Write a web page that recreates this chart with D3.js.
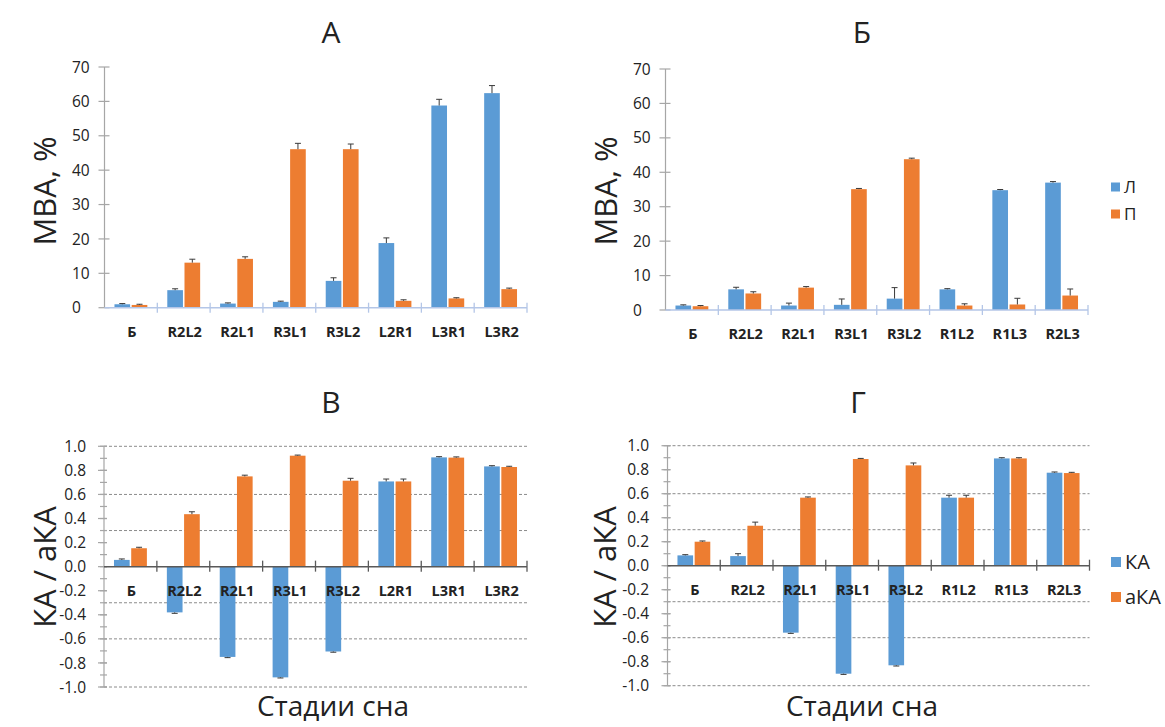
<!DOCTYPE html>
<html>
<head>
<meta charset="utf-8">
<script src="https://cdn.jsdelivr.net/npm/d3@7"></script>
<style>
  html, body { margin: 0; padding: 0; background: #fff; }
  svg { display: block; }
</style>
</head>
<body>
<svg id="chart" width="1165" height="727"></svg>
<script>
// ---------- DATA ----------
const categoriesA = ["Б", "R2L2", "R2L1", "R3L1", "R3L2", "L2R1", "L3R1", "L3R2"];
const categoriesB = ["Б", "R2L2", "R2L1", "R3L1", "R3L2", "R1L2", "R1L3", "R2L3"];

const seriesTop = ["Л", "П"];
const seriesBottom = ["КА", "аКА"];

// Panel А (МВА, %)
const panelA_L    = [1.0, 5.1, 1.2, 1.7, 7.8, 18.8, 58.8, 62.4];
const panelA_L_err = [0.2, 0.4, 0.2, 0.2, 0.9, 1.5, 1.8, 2.2];
const panelA_P    = [0.8, 13.1, 14.2, 46.1, 46.1, 2.0, 2.7, 5.4];
const panelA_P_err = [0.2, 1.0, 0.6, 1.7, 1.5, 0.3, 0.2, 0.3];

// Panel Б (МВА, %)
const panelB_L    = [1.3, 6.0, 1.3, 1.5, 3.3, 6.0, 34.8, 37.0];
const panelB_L_err = [0.2, 0.6, 0.7, 1.7, 3.2, 0.2, 0.2, 0.3];
const panelB_P    = [1.1, 4.8, 6.5, 35.1, 43.8, 1.3, 1.6, 4.2];
const panelB_P_err = [0.2, 0.5, 0.3, 0.2, 0.3, 0.5, 1.8, 1.9];

// Panel В (КА / аКА)
const panelV_KA     = [0.056, -0.38, -0.75, -0.92, -0.705, 0.708, 0.908, 0.833];
const panelV_KA_err = [0.008, 0.008, 0.006, 0.005, 0.006, 0.02, 0.006, 0.006];
const panelV_aKA     = [0.153, 0.436, 0.75, 0.922, 0.714, 0.708, 0.906, 0.828];
const panelV_aKA_err = [0.008, 0.02, 0.01, 0.005, 0.02, 0.02, 0.006, 0.006];

// Panel Г (КА / аКА)
const panelG_KA     = [0.086, 0.08, -0.558, -0.90, -0.83, 0.567, 0.894, 0.775];
const panelG_KA_err = [0.006, 0.02, 0.006, 0.006, 0.006, 0.02, 0.006, 0.006];
const panelG_aKA     = [0.20, 0.333, 0.567, 0.889, 0.836, 0.567, 0.894, 0.772];
const panelG_aKA_err = [0.006, 0.03, 0.006, 0.005, 0.02, 0.02, 0.006, 0.006];

const topTicks = [0, 10, 20, 30, 40, 50, 60, 70];
const bottomTicks = [-1.0, -0.8, -0.6, -0.4, -0.2, 0.0, 0.2, 0.4, 0.6, 0.8, 1.0];
const bottomMinorTicks = d3.range(-10, 11).map(d => d / 10);
const bottomGrid = [-1.0, -0.6, -0.3, 0.3, 0.6, 1.0];

// ---------- STYLE ----------
const colors = ["#5b9bd5", "#ed7d31"];
const axisColor = "#a6a6a6";
const textColor = "#222";
const titleFont = "'Open Sans', 'Noto Sans', sans-serif";

const svg = d3.select("#chart");

function panel(cfg) {
  const g = svg.append("g");
  const x0 = d3.scaleBand().domain(cfg.categories).range([cfg.left, cfg.right]).padding(0);
  const x1 = d3.scaleBand().domain([0, 1]).range([0, x0.bandwidth()]).paddingInner(0.09).paddingOuter(0.58);
  const y = d3.scaleLinear().domain(cfg.domain).range([cfg.bottomPx, cfg.topPx]);
  const zeroY = y(0);

  if (cfg.grid) {
    g.selectAll("line.grid").data(cfg.grid).join("line")
      .attr("x1", cfg.left).attr("x2", cfg.right)
      .attr("y1", d => y(d)).attr("y2", d => y(d))
      .attr("stroke", "#8c8c8c").attr("stroke-width", 1)
      .attr("stroke-dasharray", "3,2");
  }

  const data = [];
  cfg.categories.forEach((c, i) => {
    cfg.values.forEach((vals, s) => {
      data.push({ c, s, v: vals[i], e: cfg.errors[s][i] });
    });
  });

  g.selectAll("rect.bar").data(data).join("rect")
    .attr("x", d => x0(d.c) + x1(d.s))
    .attr("width", x1.bandwidth())
    .attr("y", d => Math.min(y(d.v), zeroY))
    .attr("height", d => Math.abs(y(d.v) - zeroY))
    .attr("fill", d => colors[d.s]);

  const eb = g.selectAll("g.err").data(data).join("g");
  eb.append("line")
    .attr("x1", d => x0(d.c) + x1(d.s) + x1.bandwidth() / 2)
    .attr("x2", d => x0(d.c) + x1(d.s) + x1.bandwidth() / 2)
    .attr("y1", d => y(d.v))
    .attr("y2", d => y(d.v + Math.sign(d.v) * d.e))
    .attr("stroke", "#3a3a3a").attr("stroke-width", 1);
  eb.append("line")
    .attr("x1", d => x0(d.c) + x1(d.s) + x1.bandwidth() / 2 - 3)
    .attr("x2", d => x0(d.c) + x1(d.s) + x1.bandwidth() / 2 + 3)
    .attr("y1", d => y(d.v + Math.sign(d.v) * d.e))
    .attr("y2", d => y(d.v + Math.sign(d.v) * d.e))
    .attr("stroke", "#3a3a3a").attr("stroke-width", 1);

  g.append("line")
    .attr("x1", cfg.left).attr("x2", cfg.left)
    .attr("y1", y(cfg.domain[0])).attr("y2", y(cfg.domain[1]))
    .attr("stroke", axisColor).attr("stroke-width", 1.2);

  if (cfg.minorTicks) {
    g.selectAll("line.minor").data(cfg.minorTicks).join("line")
      .attr("x1", cfg.left - 4).attr("x2", cfg.left + 3)
      .attr("y1", d => y(d)).attr("y2", d => y(d))
      .attr("stroke", axisColor).attr("stroke-width", 1.2);
  }
  g.selectAll("line.major").data(cfg.ticks).join("line")
    .attr("x1", cfg.left - 6).attr("x2", cfg.left + (cfg.minorTicks ? 3 : 5))
    .attr("y1", d => y(d)).attr("y2", d => y(d))
    .attr("stroke", axisColor).attr("stroke-width", 1.2);

  g.selectAll("text.tick").data(cfg.ticks).join("text")
    .attr("x", cfg.tickLabelX)
    .attr("y", d => y(d))
    .attr("dy", "0.36em")
    .attr("text-anchor", cfg.tickAnchor)
    .attr("font-family", "'Open Sans', sans-serif")
    .attr("font-size", 15.5)
    .attr("fill", textColor)
    .text(cfg.tickFormat);

  g.append("line")
    .attr("x1", cfg.left).attr("x2", cfg.right)
    .attr("y1", zeroY).attr("y2", zeroY)
    .attr("stroke", cfg.xAxisColor).attr("stroke-width", 1.5);

  const dividers = cfg.categories.slice(1).map(c => x0(c)).concat([cfg.right]);
  g.selectAll("line.div").data(dividers).join("line")
    .attr("x1", d => d).attr("x2", d => d)
    .attr("y1", zeroY - cfg.divUp).attr("y2", zeroY + cfg.divDown)
    .attr("stroke", cfg.xAxisColor).attr("stroke-width", 1.3);

  g.selectAll("text.cat").data(cfg.categories).join("text")
    .attr("x", d => x0(d) + x0.bandwidth() / 2 + 1)
    .attr("y", zeroY + 24)
    .attr("dy", "0.36em")
    .attr("text-anchor", "middle")
    .attr("font-family", "'Open Sans', sans-serif")
    .attr("font-weight", 700)
    .attr("font-size", 14.5)
    .attr("fill", textColor)
    .text(d => d);

  g.append("text")
    .attr("x", cfg.titleX).attr("y", cfg.titleY)
    .attr("text-anchor", "middle")
    .attr("font-family", titleFont)
    .attr("font-size", 30)
    .attr("fill", textColor)
    .text(cfg.title);

  g.append("text")
    .attr("transform", `translate(${cfg.yTitleX},${cfg.yTitleY}) rotate(-90)`)
    .attr("text-anchor", "middle")
    .attr("dy", "0.36em")
    .attr("font-family", titleFont)
    .attr("font-size", 31)
    .attr("fill", textColor)
    .text(cfg.yTitle);

  if (cfg.xTitle) {
    g.append("text")
      .attr("x", cfg.xTitleX).attr("y", cfg.xTitleY)
      .attr("text-anchor", "middle")
      .attr("font-family", titleFont)
      .attr("font-size", 28)
      .attr("fill", textColor)
      .text(cfg.xTitle);
  }

  if (cfg.legend) {
    const lg = g.selectAll("g.leg").data(cfg.legend.names).join("g")
      .attr("transform", (d, i) => `translate(${cfg.legend.x},${cfg.legend.y + i * cfg.legend.gap})`);
    lg.append("rect")
      .attr("x", 0).attr("y", -cfg.legend.size / 2)
      .attr("width", cfg.legend.size).attr("height", cfg.legend.size)
      .attr("fill", (d, i) => colors[i]);
    lg.append("text")
      .attr("x", cfg.legend.size + 4).attr("y", 0)
      .attr("dy", "0.36em")
      .attr("font-family", titleFont)
      .attr("font-size", cfg.legend.fontSize)
      .attr("fill", textColor)
      .text(d => d);
  }
}

panel({
  categories: categoriesA, values: [panelA_L, panelA_P], errors: [panelA_L_err, panelA_P_err],
  left: 104.5, right: 527, domain: [0, 70], bottomPx: 307.7, topPx: 67,
  ticks: topTicks, tickFormat: d => d, tickLabelX: 72, tickAnchor: "start",
  xAxisColor: "#b4c6e7", divUp: 5, divDown: 5,
  title: "А", titleX: 331, titleY: 43,
  yTitle: "МВА, %", yTitleX: 45, yTitleY: 191
});

panel({
  categories: categoriesB, values: [panelB_L, panelB_P], errors: [panelB_L_err, panelB_P_err],
  left: 665.5, right: 1088, domain: [0, 70], bottomPx: 310, topPx: 69,
  ticks: topTicks, tickFormat: d => d, tickLabelX: 633, tickAnchor: "start",
  xAxisColor: "#b4c6e7", divUp: 5, divDown: 5,
  title: "Б", titleX: 862, titleY: 43,
  yTitle: "МВА, %", yTitleX: 606, yTitleY: 191,
  legend: { names: seriesTop, x: 1111, y: 187, gap: 27, size: 9, fontSize: 17 }
});

panel({
  categories: categoriesA, values: [panelV_KA, panelV_aKA], errors: [panelV_KA_err, panelV_aKA_err],
  left: 104, right: 527, domain: [-1, 1], bottomPx: 687, topPx: 446.3,
  ticks: bottomTicks, minorTicks: bottomMinorTicks, tickFormat: d => d3.format(".1f")(d).replace("−", "-"),
  tickLabelX: 86, tickAnchor: "end", grid: bottomGrid,
  xAxisColor: "#595959", divUp: 6, divDown: 5,
  title: "В", titleX: 331, titleY: 413,
  yTitle: "КА / аКА", yTitleX: 45, yTitleY: 567,
  xTitle: "Стадии сна", xTitleX: 333, xTitleY: 716
});

panel({
  categories: categoriesB, values: [panelG_KA, panelG_aKA], errors: [panelG_KA_err, panelG_aKA_err],
  left: 667.5, right: 1089.5, domain: [-1, 1], bottomPx: 685.7, topPx: 445.7,
  ticks: bottomTicks, minorTicks: bottomMinorTicks, tickFormat: d => d3.format(".1f")(d).replace("−", "-"),
  tickLabelX: 649, tickAnchor: "end", grid: bottomGrid,
  xAxisColor: "#595959", divUp: 6, divDown: 5,
  title: "Г", titleX: 858, titleY: 413,
  yTitle: "КА / аКА", yTitleX: 605, yTitleY: 567,
  xTitle: "Стадии сна", xTitleX: 862, xTitleY: 716,
  legend: { names: seriesBottom, x: 1111, y: 562, gap: 35, size: 10, fontSize: 20 }
});
</script>
</body>
</html>
